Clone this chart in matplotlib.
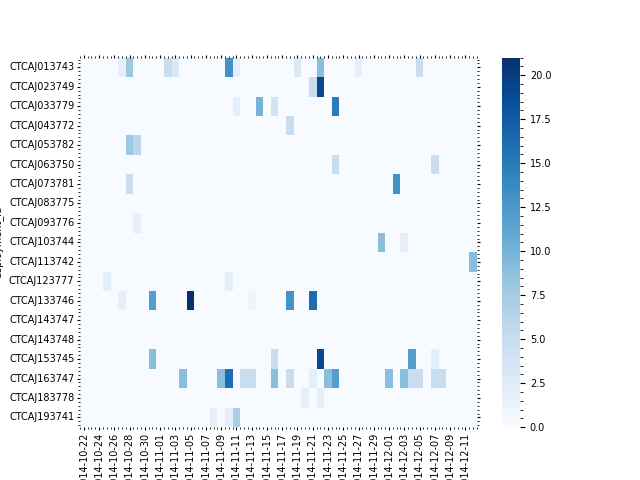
import numpy as np
import pandas as pd
import matplotlib
matplotlib.use("Agg")
import matplotlib.pyplot as plt
import seaborn as sns

# ── Data ──────────────────────────────────────────────────────────────────────
deployment_ids = [
    "CTCAJ013743", "CTCAJ023749", "CTCAJ033779", "CTCAJ043772", "CTCAJ053782",
    "CTCAJ063750", "CTCAJ073781", "CTCAJ083775", "CTCAJ093776", "CTCAJ103744",
    "CTCAJ113742", "CTCAJ123777", "CTCAJ133746", "CTCAJ143747", "CTCAJ143748",
    "CTCAJ153745", "CTCAJ163747", "CTCAJ183778", "CTCAJ193741",
]
dates = [d.strftime("%Y-%m-%d") for d in pd.date_range("2014-10-22", "2014-12-12")]

# non-zero cells: (deployment, date, count)
cell_ids = [
    "CTCAJ013743", "CTCAJ013743", "CTCAJ013743", "CTCAJ013743", "CTCAJ013743",
    "CTCAJ013743", "CTCAJ013743", "CTCAJ013743", "CTCAJ013743", "CTCAJ013743",
    "CTCAJ023749", "CTCAJ023749",
    "CTCAJ033779", "CTCAJ033779", "CTCAJ033779", "CTCAJ033779",
    "CTCAJ043772",
    "CTCAJ053782", "CTCAJ053782",
    "CTCAJ063750", "CTCAJ063750",
    "CTCAJ073781", "CTCAJ073781",
    "CTCAJ093776",
    "CTCAJ103744", "CTCAJ103744",
    "CTCAJ113742",
    "CTCAJ123777", "CTCAJ123777",
    "CTCAJ133746", "CTCAJ133746", "CTCAJ133746", "CTCAJ133746", "CTCAJ133746",
    "CTCAJ133746",
    "CTCAJ153745", "CTCAJ153745", "CTCAJ153745", "CTCAJ153745", "CTCAJ153745",
    "CTCAJ163747", "CTCAJ163747", "CTCAJ163747", "CTCAJ163747", "CTCAJ163747",
    "CTCAJ163747", "CTCAJ163747", "CTCAJ163747", "CTCAJ163747", "CTCAJ163747",
    "CTCAJ163747", "CTCAJ163747", "CTCAJ163747", "CTCAJ163747", "CTCAJ163747",
    "CTCAJ163747",
    "CTCAJ183778", "CTCAJ183778",
    "CTCAJ193741", "CTCAJ193741", "CTCAJ193741",
]
cell_dates = [
    "2014-10-27", "2014-10-28", "2014-11-02", "2014-11-03", "2014-11-10",
    "2014-11-11", "2014-11-19", "2014-11-22", "2014-11-27", "2014-12-05",
    "2014-11-21", "2014-11-22",
    "2014-11-11", "2014-11-14", "2014-11-16", "2014-11-24",
    "2014-11-18",
    "2014-10-28", "2014-10-29",
    "2014-11-24", "2014-12-07",
    "2014-10-28", "2014-12-02",
    "2014-10-29",
    "2014-11-30", "2014-12-03",
    "2014-12-12",
    "2014-10-25", "2014-11-10",
    "2014-10-27", "2014-10-31", "2014-11-05", "2014-11-13", "2014-11-18",
    "2014-11-21",
    "2014-10-31", "2014-11-16", "2014-11-22", "2014-12-04", "2014-12-07",
    "2014-11-04", "2014-11-09", "2014-11-10", "2014-11-12", "2014-11-13",
    "2014-11-16", "2014-11-18", "2014-11-21", "2014-11-23", "2014-11-24",
    "2014-12-01", "2014-12-03", "2014-12-04", "2014-12-05", "2014-12-07",
    "2014-12-08",
    "2014-11-20", "2014-11-22",
    "2014-11-08", "2014-11-10", "2014-11-11",
]
cell_counts = [
    2, 8, 5, 3, 13,
    2, 3, 9, 2, 5,
    5, 19,
    2, 10, 4, 15,
    5,
    8, 6,
    5, 5,
    5, 13,
    2,
    9, 2,
    9,
    2, 2,
    2, 12, 21, 1, 13,
    16,
    9, 5, 19, 12, 2,
    9, 9, 16, 5, 5,
    9, 5, 2, 9, 12,
    9, 9, 5, 5, 5,
    5,
    2, 2,
    2, 2, 7,
]

# ── Build the matrix ──────────────────────────────────────────────────────────
cells = pd.DataFrame({"deployment_id": cell_ids, "date": cell_dates,
                      "count": cell_counts})
grid = (cells.pivot_table(index="deployment_id", columns="date", values="count",
                          aggfunc="sum")
        .reindex(index=deployment_ids, columns=dates)
        .fillna(0))

plt.rcParams["xtick.minor.visible"] = True
plt.rcParams["ytick.minor.visible"] = True
plt.rcParams["xtick.top"] = True
plt.rcParams["ytick.right"] = True

fig, ax = plt.subplots(figsize=(6.4, 4.8), dpi=100)
sns.heatmap(grid, cmap="Blues", ax=ax)
ax.tick_params(which="both", labelsize=7, pad=1.5)
ax.tick_params(which="major", length=2.5)
ax.tick_params(which="minor", length=1.5)
ax.set_xlabel("")
ax.set_ylabel("deployment_id", fontsize=7)
cbar = ax.collections[0].colorbar
cbar.ax.tick_params(labelsize=7)
cbar.ax.minorticks_on()

fig.savefig("out.png", dpi=100)
